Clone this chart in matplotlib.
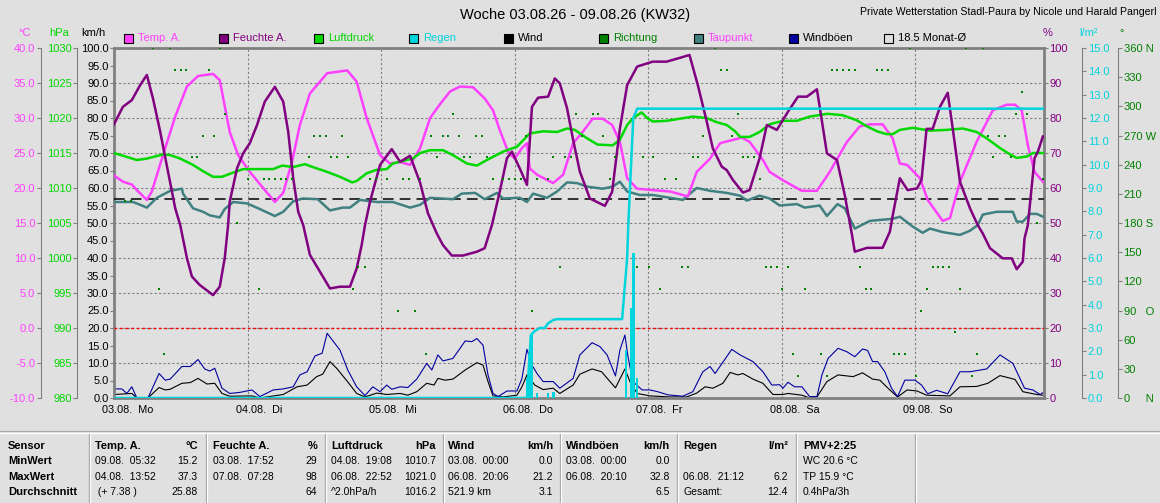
import matplotlib
matplotlib.use('Agg')
import matplotlib.pyplot as plt
import matplotlib.transforms as mtransforms
from matplotlib.ticker import MultipleLocator, FormatStrFormatter
from matplotlib.patches import Rectangle

plt.rcParams['font.family'] = ['Liberation Sans', 'DejaVu Sans']

# ---- data (hours since 03.08. 00:00) ----
temp_h = [0, 1.6, 3.2, 4.1, 5.9, 6.8, 8.8, 11, 13.1, 15.1, 17.8, 19, 20.8, 22.3, 24.4, 26.8, 28.9,
          30.4, 32, 33.4, 35.2, 38.3, 41.9, 43.6, 45.4, 47.8, 49.6, 51.4, 53.2, 55, 56.8, 58.6, 60.4,
          62.2, 64.5, 66.6, 68.1, 69.3, 70.8, 72, 73.3, 74.2, 74.7, 76, 78.9, 80.7, 82.5, 84.2, 86,
          87.8, 89.5, 90.9, 92.2, 94, 96.8, 99.9, 103.1, 104.7, 107.1, 108.9, 112.8, 114.2, 116.6,
          117.8, 120.2, 123.6, 126.3, 128.6, 131.7, 134, 135.8, 138.1, 139.9, 141.2, 142.5, 144.8,
          146.2, 148.9, 150.2, 152, 155, 157.9, 160.4, 161.9, 163.1, 164.2, 165.4, 166.9]
temp_c = [21.8, 20.9, 20.5, 19.7, 18.3, 19.5, 24.7, 30.2, 34.5, 36, 36.3, 35.4, 28, 24.7, 22.3, 20, 18,
          19.3, 23.8, 29, 33.5, 36.4, 36.8, 35.2, 30, 24.7, 23.5, 23.7, 23.3, 25.7, 30, 32, 33.8,
          34.5, 34.4, 32.8, 31.1, 28.3, 25.2, 24.2, 25.7, 26.4, 22.8, 21.9, 20.7, 21.9, 26.4, 28, 29.9,
          29.9, 29, 26.6, 21.4, 19.9, 19.7, 19.5, 18.8, 22.3, 24.2, 26.4, 27.2, 26.6, 24,
          22.3, 21.1, 19.6, 19.6, 22.3, 26.6, 28.8, 29.1, 29.1, 27.1, 23.5, 23.3, 21.4,
          18.3, 15.3, 15.7, 20.9, 26.6, 31.1, 31.9, 31.9, 31.1, 26.1, 22.3, 20.9]

hum_h = [0, 1.6, 3.2, 4.7, 5.9, 7, 8.3, 9.7, 11, 11.9, 13.1, 14, 15.4, 17.8, 19, 19.9, 20.5, 20.8,
         22.1, 23.2, 24.4, 25.7, 27.1, 28.9, 30.4, 31.3, 32.2, 33.1, 34, 35.2, 37, 38.8, 40.6, 42.4,
         43.6, 44.5, 45.1, 46, 47.8, 49.9, 51.4, 53.2, 55, 56.4, 58, 59.1, 60.7, 62.7, 65.2, 66.6,
         67.9, 69.3, 70.6, 71.5, 72.9, 74.2, 75.1, 76.2, 78, 79.2, 80.1, 81.4, 82.5, 83.7, 85.5,
         87.3, 88.2, 89.5, 90.9, 92.2, 94, 96.8, 99.3, 101.7, 103.4, 104.9, 106.5, 107.6, 109.2,
         110.1, 111.2, 113, 114.2, 116, 117.3, 119.1, 121.1, 122.9, 124.5, 126.3, 128.1, 129.9,
         131.3, 132.6, 133.1, 135.3, 138.1, 139.4, 139.9, 141.2, 142.6, 144.3, 145.1, 146, 147.1,
         148.4, 149.8, 150.7, 152, 153.8, 155.2, 156.1, 157.4, 159.7, 161.3, 162.2, 163.3, 163.6,
         164.2, 165.4, 166, 166.9]
hum_pct = [78.2, 83.2, 85.1, 89.4, 92.3, 85.6, 76.1, 64.7, 54.2, 49.4, 40, 34.7, 32.3, 29.4, 31.8, 40, 49.4, 56.1,
           65.6, 69.9, 72.8, 78, 84.7, 88.9, 84.7, 76.1, 62.8, 53.2, 49.4, 40.9, 36.1, 31.3, 31.8, 31.8,
           37, 43.7, 49.4, 56.1, 66.6, 71.1, 67.5, 69.2, 61.5, 52.8, 47, 43.7, 40.7, 40.7, 41.8, 42.8,
           49.4, 58.9, 68.5, 70.4, 65.6, 60.9, 83.2, 85.8, 86.1, 91.3, 89.9, 82.8, 73.7, 64.7, 57,
           55.6, 54.9, 58.9, 77, 89.4, 94.7, 96.1, 96.1, 97.2, 98, 89.4, 79, 71.3, 66.1,
           65.1, 62.3, 58.7, 59.4, 68.5, 78, 76.6, 81.8, 86.1, 86.1, 88.2, 69.9, 68,
           58, 46.6, 41.8, 42.9, 42.9, 47.5, 52, 62.8, 59.4, 59.9, 62.3, 76.9, 76.9,
           83.2, 87.2, 77, 61.8, 54.2, 49.4, 47, 42.8, 39.9, 39.9, 36.8, 39, 45.6,
           49.4, 68.5, 70.4, 74.7]

pres_h = [0, 4.1, 5.9, 8.8, 10.1, 11.9, 14.2, 16, 17.8, 19.4, 21.4, 23.2, 28.6, 30.2, 32.2, 34.3, 35.7,
          38.3, 40.6, 42.8, 43.6, 45.4, 47.2, 49, 50.1, 52.6, 53.7, 55, 56.8, 59.1, 60.9, 63.4, 65.2,
          67, 69.9, 72.4, 74.7, 77.1, 79.6, 81.4, 82.8, 85, 86.9, 89.6, 90.9, 92.2, 93.3, 94.8, 95.8,
          96.8, 99.3, 101.7, 104, 106.5, 108.3, 110.1, 111.6, 112.5, 114.2, 116, 117.8, 120.2, 122.7,
          125, 128.2, 130.9, 133.4, 135.3, 137.1, 138.8, 139.9, 141.2, 143.5, 146.6, 149.6, 152.5,
          155, 156.8, 159.2, 161, 162.2, 164, 165.1, 166.9]
pres_hpa = [1015.0, 1014.0, 1014.2, 1014.8, 1014.7, 1014.2, 1013.3, 1012.4, 1011.6, 1011.6, 1012.2, 1012.7,
            1012.7, 1013.2, 1013.0, 1013.4, 1013.0, 1012.3, 1011.6, 1010.8, 1011.0, 1012.1, 1012.6, 1012.7,
            1013.5, 1014.0, 1014.2, 1015.0, 1015.4, 1015.4, 1014.7, 1013.5, 1013.2, 1014.0, 1015.2, 1015.9,
            1017.8, 1018.1, 1018.0, 1018.5, 1018.3, 1017.1, 1016.2, 1016.1, 1016.9, 1019.0, 1020.0, 1020.8,
            1020.0, 1019.5, 1019.6, 1019.9, 1020.2, 1020.0, 1019.4, 1019.0, 1018.1, 1017.3, 1017.3, 1018.0,
            1019.1, 1019.6, 1019.6, 1020.2, 1020.6, 1020.4, 1019.7, 1018.8, 1018.1, 1017.7, 1017.7, 1018.3,
            1018.6, 1018.2, 1018.3, 1018.5, 1018.0, 1017.1, 1015.7, 1014.8, 1014.3, 1014.5, 1015.0, 1015.0]

dew_h = [0, 3.4, 4.7, 5.9, 7.7, 10.1, 12.2, 12.4, 14.2, 16, 17.2, 19, 19.9, 21.4, 23.9, 25.9, 28.9, 30.4,
         32.2, 33.9, 36.6, 38.8, 41.1, 42.4, 44.2, 47.2, 50.1, 53.2, 55, 56.8, 60.9, 62.5, 64.9, 66.6,
         68.8, 69.9, 72.9, 74.2, 75.3, 77.8, 79.6, 81.4, 83.2, 85, 87.8, 89.6, 90.9, 92.2, 94.5, 96.8,
         99.9, 102.2, 104.7, 107.1, 110.1, 112.5, 113.7, 116, 117.8, 119.6, 122.7, 124.1, 126.8, 128.1,
         130, 131.3, 133.1, 135.8, 139.9, 141.2, 143.5, 145.3, 146.6, 148.9, 152, 153.8, 155.2, 156.1,
         158.6, 161.5, 162.2, 163.3, 164.6, 165.8, 166.9]
dew_c = [18, 18, 17.6, 17.2, 18.6, 19.6, 19.9, 19.2, 17.1, 16.6, 16.1, 15.8, 17, 18, 17.8, 17.1, 16, 16.6,
         18.1, 18.5, 18.4, 16.8, 17.2, 17.2, 18.3, 18, 18, 17.2, 17.6, 18.6, 18.4, 19.2, 19.3, 18.4,
         19.3, 18.5, 18.6, 18, 19.2, 18.6, 19.5, 20.8, 20.7, 20.2, 19.9, 20.2, 20.9, 19.5, 19, 19,
         18.6, 18.3, 20, 19.6, 19.3, 18.9, 18.2, 18.9, 18.5, 17.5, 17.7, 17.2, 17.5, 16,
         17.7, 17.1, 14.2, 15.3, 15.6, 15.9, 14.5, 13.6, 14.2, 13.7, 13.3, 13.9, 14.7, 16.2,
         16.6, 16.6, 15.2, 15.2, 16.3, 16.3, 15.9]

wind_h = [0, 3.2, 4.1, 6.1, 8.1, 9.2, 10.1, 12.2, 13.7, 15.1, 16.7, 18.1, 19.4, 20.8, 24.8, 26.2, 30.4,
          32.9, 34.7, 36.4, 37.5, 38.8, 40, 41.9, 43.6, 45.1, 47.2, 49, 51.4, 52.8, 54.4, 56.2, 57.5,
          58.2, 59.5, 60.9, 63.1, 65.2, 66.3, 67.2, 68.1, 69.9, 72.4, 73.3, 74.2, 75.6, 77.1, 78.9,
          80.1, 82.5, 83.7, 85.9, 87.6, 90.1, 91.8, 92.7, 94, 96.3, 99.9, 102.9, 104.7, 106.2, 107.6,
          109.4, 110.7, 112.1, 113, 114.8, 116.6, 118.4, 120.2, 121.1, 123.6, 125, 126.3, 128.1,
          130.1, 132.8, 134.5, 136.3, 137.6, 139.4, 140.8, 142.5, 144.3, 146, 150.2, 152, 155, 157,
          159.2, 161.9, 163.3, 165.8, 166.9]
wind_kmh = [1, 1.3, 0, 0, 3, 2.3, 2.5, 4.2, 4.4, 5.6, 4, 4.2, 1.3, 0.5, 0.6, 0, 1,
            3.2, 3.7, 6.1, 6.8, 10.4, 8.5, 4.8, 1.3, 0.3, 1.4, 1, 1.3, 0.8, 1.8, 4.2, 3.7,
            5.6, 5.1, 5.4, 8, 10.1, 9.4, 4.7, 0.6, 0.3, 0.8, 3.2, 6.6, 3.7, 2.4, 2.8,
            1.3, 3.7, 6.8, 8.3, 7.5, 2.9, 8.3, 4.7, 1.3, 0.6, 0.3, 0.3, 1.4, 3.2, 2.8,
            4.2, 7.3, 6.6, 7, 5.4, 4.2, 1, 1, 1.3, 0.8, 0, 0.3, 4.7,
            6.6, 6.1, 7.2, 5.4, 5.1, 2.3, 0.3, 2.3, 2, 0.8, 0.6, 3.2, 3.3, 4.2,
            6.4, 5.3, 1.8, 1, 0.8]

gust_h = [0, 1.4, 2.3, 3.2, 4.1, 6.1, 8.1, 9.2, 10.1, 12.2, 13.7, 15.1, 16.3, 17.2, 18.1, 19.4, 20.8,
          22.6, 24.8, 26.2, 28.6, 30.4, 32.2, 33.4, 34.7, 36.1, 37.4, 38.3, 39.2, 40.6, 42, 43.6, 45.1,
          46.5, 47.8, 49, 49.9, 51.4, 52.8, 54.4, 56.2, 57.1, 58.2, 59.1, 60.9, 63.1, 64.3, 65.2, 66.3,
          67.2, 68.1, 69, 70.6, 72.4, 73.3, 74.2, 75.1, 76, 77.1, 78.9, 80.1, 82.5, 83.7, 85.9, 87.3,
          88.6, 90.1, 90.9, 91.8, 92.3, 93.2, 94.9, 96.3, 97.7, 99.5, 102.2, 104, 105.8, 107.1, 108,
          111, 112.5, 114.8, 116.6, 118.2, 119.6, 120.2, 121.1, 122.3, 123.6, 125, 126.3, 127.2,
          128.3, 130.1, 131.7, 133.1, 134.5, 135.4, 136.3, 137.2, 138.5, 139.7, 140.8, 142.1, 143.9,
          145.1, 146.2, 147.8, 149.8, 152, 153.8, 156.8, 159.2, 161.5, 163.6, 165.1, 166.4, 166.9]
gust_kmh = [2.6, 2.6, 1.3, 3.2, 0, 0, 7, 5.1, 5.4, 9, 9, 11, 8.3, 7.7, 8.5, 2.8, 1.3,
            1.6, 2.3, 0.4, 2.3, 2.6, 3.2, 6.6, 7.5, 12, 12.8, 18.5, 16.6, 13.7, 8, 3.2, 0.7,
            3.2, 1.8, 3.7, 2.5, 3.2, 3, 5.4, 9.9, 8, 12.3, 10.6, 11.3, 16.3, 16.1, 17, 15.1,
            6.6, 1.3, 0.4, 2, 2, 5.6, 13.9, 9.4, 7, 4.7, 4.7, 2.8, 5.6, 12.3, 15.8, 14.7,
            12.3, 6.3, 13.7, 18, 12.3, 4.7, 2.3, 2.3, 1.8, 0.9, 0.5, 1.8, 7.5, 9, 7,
            13.9, 12.3, 10.4, 7.5, 3.7, 3.8, 2.8, 4.5, 3.2, 3.2, 0.4, 0.4, 6.6,
            11.3, 14.2, 13.2, 11.8, 14, 13.6, 10.4, 10.4, 7.5, 2.8, 0.4, 5.1, 5.1,
            3.7, 1.2, 2.2, 1.2, 7.5, 7.5, 8.3, 12.3, 9.9, 2.8, 2.3, 1, 1.5]

rain_h = [0, 74.2, 74.9, 75.6, 76.5, 77.4, 78, 78.9, 79.6, 91.3, 91.6, 92.2, 92.4, 93.3, 94, 166.9]
rain_sum = [0, 0, 2.7, 2.87, 3.0, 3.0, 3.2, 3.34, 3.38, 3.38, 4.27, 6.0, 7.4, 12.0, 12.4, 12.4]
rain_bar_h = [74.2, 74.7, 75.1, 76, 78, 79, 92, 92.9, 93.3, 94]
rain_bar_mm = [0.85, 1.9, 2.8, 0.2, 0.2, 0.25, 2.05, 3.85, 6.2, 0.85]

dir_h = [7, 10.1, 19, 108, 143, 153, 156.1,
         11, 12, 12.9, 17.1, 109, 110.1, 129, 129.9, 131, 132, 133.1, 137.1, 138, 139,
         163.1,
         19.9, 60.9, 83, 86, 86.9, 112.1, 162, 164,
         16, 18, 35.9, 37, 38.1, 41, 56.9, 59.1, 60, 62, 65, 66.1, 74, 84.1, 87.8, 105.8, 111, 157, 159, 160.1,
         14, 14.9, 35, 39, 40.1, 42, 58, 62.9, 64, 67, 78.9, 81, 82.1, 90, 95, 96.8, 104, 104.9, 113, 113.9,
         115, 157.9, 161.1,
         24.1, 26.9, 27.8, 28.9, 30, 30.9, 32, 46, 47.1, 49, 51.9, 53, 55, 68.1, 69.9, 71, 72, 73.1, 76, 78,
         89.1, 99, 101, 116, 166.9,
         2, 3.1,
         22.1, 165.8,
         43.8, 45.1, 80.1, 94, 96.1, 102, 103.1, 117.1, 118, 119.1, 121.1, 134, 147.1, 148, 148.9, 150,
         8.1, 26, 42.9, 98.1, 120, 124.1, 135.1, 136, 146, 152,
         51, 54.1, 75.1, 145,
         151.1,
         9, 56, 122, 127, 140.1, 141, 142.1, 155,
         122.9, 128.1, 144.1, 154.1]
dir_deg = [360, 360, 360, 360, 360, 360, 360,
           337.5, 337.5, 337.5, 337.5, 337.5, 337.5, 337.5, 337.5, 337.5, 337.5, 337.5, 337.5, 337.5, 337.5,
           315,
           292.5, 292.5, 292.5, 292.5, 292.5, 292.5, 292.5, 292.5,
           270, 270, 270, 270, 270, 270, 270, 270, 270, 270, 270, 270, 270, 270, 270, 270, 270, 270, 270, 270,
           247.5, 247.5, 247.5, 247.5, 247.5, 247.5, 247.5, 247.5, 247.5, 247.5, 247.5, 247.5, 247.5, 247.5,
           247.5, 247.5, 247.5, 247.5, 247.5, 247.5, 247.5, 247.5, 247.5,
           225, 225, 225, 225, 225, 225, 225, 225, 225, 225, 225, 225, 225, 225, 225, 225, 225, 225, 225, 225,
           225, 225, 225, 225, 225,
           202.5, 202.5,
           180, 180,
           135, 135, 135, 135, 135, 135, 135, 135, 135, 135, 135, 135, 135, 135, 135, 135,
           112.5, 112.5, 112.5, 112.5, 112.5, 112.5, 112.5, 112.5, 112.5, 112.5,
           90, 90, 90, 90,
           67.5,
           45, 45, 45, 45, 45, 45, 45, 45,
           22.5, 22.5, 22.5, 22.5]

month_avg_c = 18.5
day_h = [0, 24, 48, 72, 96, 120, 144]
day_labels = ['03.08.  Mo', '04.08.  Di', '05.08.  Mi', '06.08.  Do', '07.08.  Fr', '08.08.  Sa', '09.08.  So']

# ---- colours ----
BG = '#e0e0e0'
GRAY = '#808080'
TEMP = '#ff40ff'
HUM = '#800080'
PRES = '#00d800'
RAIN = '#00d4dc'
DIR = '#008000'
DEW = '#408080'
GUST = '#0000a0'

W, H = 1160, 503
fig = plt.figure(figsize=(W / 100, H / 100), dpi=100, facecolor=BG)
ax = fig.add_axes([114 / W, 105 / H, 930 / W, 350 / H])
ax.set_facecolor(BG)
ax.set_xlim(0, 167.1)
ax.set_ylim(0, 100)
for s in ax.spines.values():
    s.set_color(GRAY)
    s.set_linewidth(2)

ax.yaxis.set_major_locator(MultipleLocator(10))
ax.yaxis.set_minor_locator(MultipleLocator(5))
ax.yaxis.set_major_formatter(FormatStrFormatter('%.1f'))
ax.yaxis.set_minor_formatter(FormatStrFormatter('%.1f'))
ax.tick_params(axis='y', which='both', colors=GRAY, labelcolor='black', labelsize=8, length=3, width=0.8, pad=1)
ax.set_xticks(day_h)
ax.set_xticklabels(day_labels)
ax.tick_params(axis='x', length=0, labelsize=7.8, pad=5)
shift = mtransforms.ScaledTranslation(-12 / 100, 0, fig.dpi_scale_trans)
for lab in ax.get_xticklabels():
    lab.set_horizontalalignment('left')
    lab.set_transform(lab.get_transform() + shift)
ax.grid(True, which='major', color=GRAY, linestyle=(0, (2, 2)), linewidth=0.8)


def twin(lo, hi, side, outward, color, ticks, labels, spine=True):
    t = ax.twinx()
    t.set_ylim(lo, hi)
    for s in t.spines.values():
        s.set_visible(False)
    sp = t.spines[side]
    sp.set_visible(spine)
    sp.set_position(('outward', outward))
    sp.set_color(GRAY)
    sp.set_linewidth(0.8)
    if side == 'left':
        t.yaxis.tick_left()
    else:
        t.yaxis.tick_right()
    t.set_yticks(ticks)
    t.set_yticklabels(labels)
    t.tick_params(axis='y', colors=GRAY, labelcolor=color, labelsize=8, length=3, width=0.8, pad=1)
    return t


t_ticks = list(range(-10, 41, 5))
ax_t = twin(-10, 40, 'left', 52.8, TEMP, t_ticks, ['%.1f' % v for v in t_ticks])
p_ticks = list(range(980, 1031, 5))
ax_p = twin(980, 1030, 'left', 26.6, PRES, p_ticks, [str(v) for v in p_ticks])
h_ticks = list(range(0, 101, 10))
ax_h = twin(0, 100, 'right', 0, HUM, h_ticks, [str(v) for v in h_ticks], spine=False)
r_ticks = list(range(0, 16))
ax_r = twin(0, 15, 'right', 27.4, RAIN, r_ticks, ['%.1f' % v for v in r_ticks])
d_ticks = list(range(0, 361, 30))
d_labels = ['0     N', '30', '60', '90   O', '120', '150', '180 S', '210', '240', '270 W', '300', '330', '360 N']
ax_d = twin(0, 360, 'right', 53.3, DIR, d_ticks, d_labels)

# ---- series ----
ax.plot(wind_h, wind_kmh, color='black', lw=0.8)
ax.plot(gust_h, gust_kmh, color=GUST, lw=0.8)
ax_d.plot(dir_h, dir_deg, 's', color=DIR, ms=1.7, mew=0)
ax_t.axhline(0, color='red', lw=1, linestyle=(0, (2, 2)))
ax_t.axhline(month_avg_c, color='black', lw=1.1, dashes=(7, 4))
ax_p.plot(pres_h, pres_hpa, color=PRES, lw=1.8)
ax_t.plot(dew_h, dew_c, color=DEW, lw=1.8)
ax_t.plot(temp_h, temp_c, color=TEMP, lw=1.8)
ax_h.plot(hum_h, hum_pct, color=HUM, lw=1.8)
ax_r.bar(rain_bar_h, rain_bar_mm, width=0.45, color=RAIN)
ax_r.plot(rain_h, rain_sum, color=RAIN, lw=1.8)

# ---- overlay in pixel coordinates for texts, legend and table ----
ov = fig.add_axes([0, 0, 1, 1])
ov.set_xlim(0, W)
ov.set_ylim(H, 0)
ov.axis('off')

ov.text(575, 15, 'Woche 03.08.26 - 09.08.26 (KW32)', ha='center', va='center', fontsize=10.5)
ov.text(1157, 12, 'Private Wetterstation Stadl-Paura by Nicole und Harald Pangerl',
        ha='right', va='center', fontsize=7.6)

units = [('°C', 25, TEMP), ('hPa', 59, PRES), ('km/h', 93, 'black'),
         ('%', 1048, HUM), ('l/m²', 1089, RAIN), ('°', 1122, DIR)]
for txt, x, c in units:
    ov.text(x, 33, txt, ha='center', va='center', fontsize=8, color=c)

legend_names = ['Temp. A.', 'Feuchte A.', 'Luftdruck', 'Regen', 'Wind', 'Richtung', 'Taupunkt',
                'Windböen', '18.5 Monat-Ø']
legend_fill = [TEMP, HUM, PRES, RAIN, 'black', DIR, DEW, GUST, 'none']
legend_text = [TEMP, HUM, PRES, RAIN, 'black', DIR, TEMP, 'black', 'black']
for i, name in enumerate(legend_names):
    x0 = 124 + i * 95
    ov.add_patch(Rectangle((x0, 33.5), 9, 9, facecolor=legend_fill[i], edgecolor='black', lw=0.8))
    ov.text(x0 + 14, 38, name, ha='left', va='center', fontsize=8, color=legend_text[i])

# table
ov.plot([0, W], [431, 431], color='#a8a8a8', lw=0.8)
ov.plot([0, W], [432.5, 432.5], color='white', lw=1)
for x in [89, 206, 325, 443, 560, 677, 796, 915]:
    ov.plot([x, x], [434, H], color='#a0a0a0', lw=0.9)
    ov.plot([x + 1.2, x + 1.2], [434, H], color='white', lw=0.9)

row_y = [446, 461, 477, 492]
for y, name in zip(row_y, ['Sensor', 'MinWert', 'MaxWert', 'Durchschnitt']):
    ov.text(8, y, name, ha='left', va='center', fontsize=8, fontweight='bold')

col_left = [95, 213, 331, 448, 566, 683, 803]
col_right = [198, 317, 436, 553, 670, 788]
head_left = ['Temp. A.', 'Feuchte A.', 'Luftdruck', 'Wind', 'Windböen', 'Regen', 'PMV+2:25']
head_right = ['°C', '%', 'hPa', 'km/h', 'km/h', 'l/m²']
cell_left = [['09.08.  05:32', '04.08.  13:52', ' (+ 7.38 )'],
             ['03.08.  17:52', '07.08.  07:28', ''],
             ['04.08.  19:08', '06.08.  22:52', '^2.0hPa/h'],
             ['03.08.  00:00', '06.08.  20:06', '521.9 km'],
             ['03.08.  00:00', '06.08.  20:10', ''],
             ['', '06.08.  21:12', 'Gesamt:'],
             ['WC 20.6 °C', 'TP 15.9 °C', '0.4hPa/3h']]
cell_right = [['15.2', '37.3', '25.88'],
              ['29', '98', '64'],
              ['1010.7', '1021.0', '1016.2'],
              ['0.0', '21.2', '3.1'],
              ['0.0', '32.8', '6.5'],
              ['', '6.2', '12.4']]
for j in range(7):
    ov.text(col_left[j], row_y[0], head_left[j], ha='left', va='center', fontsize=8, fontweight='bold')
    for k in range(3):
        ov.text(col_left[j], row_y[k + 1], cell_left[j][k], ha='left', va='center', fontsize=7.5)
    if j < 6:
        ov.text(col_right[j], row_y[0], head_right[j], ha='right', va='center', fontsize=8, fontweight='bold')
        for k in range(3):
            ov.text(col_right[j], row_y[k + 1], cell_right[j][k], ha='right', va='center', fontsize=7.5)

fig.savefig('out.png', dpi=100, facecolor=BG)
